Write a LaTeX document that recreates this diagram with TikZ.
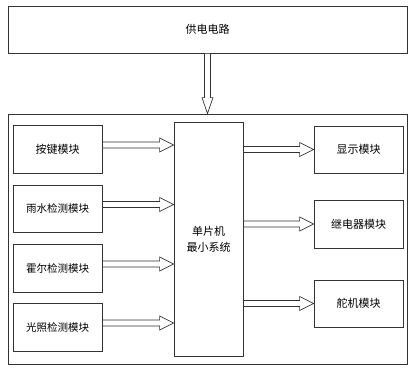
\documentclass[tikz,border=0pt]{standalone}
\usepackage{fontspec}
\newfontfamily\cjk{Noto Sans CJK SC}
\usetikzlibrary{calc}
\definecolor{linec}{RGB}{50,50,50}
\begin{document}
\begin{tikzpicture}[x=1pt,y=-1pt,
  box/.style={draw=linec, line width=0.8pt, fill=white, inner sep=0pt, minimum width=89pt,
    font=\cjk\fontsize{11pt}{16pt}\selectfont, align=center},
  hollowright/.style={draw=linec, line width=0.7pt, fill=white,
    to path={let \p1=(\tikztostart), \p2=(\tikztotarget) in
      (\x1,\y1+3pt) -- (\x2-14pt,\y1+3pt) -- (\x2-14pt,\y1+7pt) -- (\x2,\y1)
      -- (\x2-14pt,\y1-7pt) -- (\x2-14pt,\y1-3pt) -- (\x1,\y1-3pt) -- cycle}},
  hollowdown/.style={draw=linec, line width=0.7pt, fill=white,
    to path={let \p1=(\tikztostart), \p2=(\tikztotarget) in
      (\x1-3pt,\y1) -- (\x1-3pt,\y2+16pt) -- (\x1-5.5pt,\y2+16pt) -- (\x1,\y2)
      -- (\x1+5.5pt,\y2+16pt) -- (\x1+3pt,\y2+16pt) -- (\x1+3pt,\y1) -- cycle}}]
\useasboundingbox (0,0) rectangle (417,369);
\node[box, minimum width=399pt, minimum height=47pt] (pwr) at (207.5,29.5) {供电电路};
\node[box, minimum width=399pt, minimum height=250pt] (sys) at (207.5,239) {};
\node[box, minimum width=69pt, minimum height=234pt] (mcu) at (208.5,239) {单片机\\最小系统};
\node[box, minimum height=48pt] (k1) at (57.5,149) {按键模块};
\node[box, minimum height=47pt, font=\cjk\fontsize{10.5pt}{14pt}\selectfont] (k2) at (57.5,208.5) {雨水检测模块};
\node[box, minimum height=48pt, font=\cjk\fontsize{10.5pt}{14pt}\selectfont] (k3) at (57.5,268) {霍尔检测模块};
\node[box, minimum height=48pt, font=\cjk\fontsize{10.5pt}{14pt}\selectfont] (k4) at (57.5,327) {光照检测模块};
\node[box, minimum height=47pt] (r1) at (358.5,149.5) {显示模块};
\node[box, minimum height=48pt] (r2) at (358.5,224) {继电器模块};
\node[box, minimum height=47pt] (r3) at (358.5,303.5) {舵机模块};
\path ($(pwr.south)+(0pt,0pt)$) coordinate (ds) (sys.north) coordinate (de);
\draw[hollowdown] (ds) to (de);
\foreach \k in {k1,k2,k3,k4}{
  \draw[hollowright] ($(\k.east)+(0pt,4pt)$) to (mcu.west);
}
\foreach \r in {r1,r2,r3}{
  \draw[hollowright] (mcu.east |- \r.west) to (\r.west);
}
\end{tikzpicture}
\end{document}
